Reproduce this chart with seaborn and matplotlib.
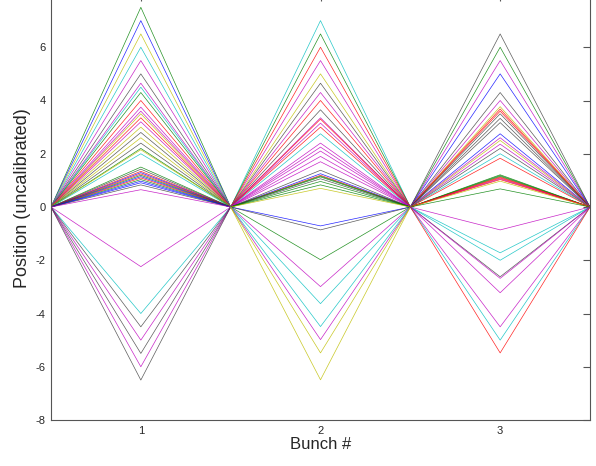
import matplotlib
matplotlib.use("Agg")
import matplotlib.pyplot as plt
import numpy as np
import pandas as pd
import seaborn as sns

# Peak position of each trace in each bunch, with its line colour code
bunches = [1, 2, 3]

peaks_bunch1 = [7.5, 7.0, 6.5, 6.0, 5.5, 5.0, 4.65, 4.5, 4.3, 4.0, 3.75, 3.6, 3.5,
                3.35, 3.2, 3.0, 2.8, 2.6, 2.4, 2.2, 2.15, 2.0,
                1.5, 1.42, 1.34, 1.29, 1.24, 1.19, 1.14, 1.09, 1.03, 0.97, 0.91,
                0.83, 0.65,
                -2.24, -4.0, -4.5, -5.0, -5.5, -6.0, -6.5]
colors_bunch1 = "gbycmkmcgrmmyrmykykgyc" "gkrbrgbrgbbkm" "mckmkmk"

peaks_bunch2 = [7.0, 6.5, 6.0, 5.5, 5.0, 4.65, 4.3, 4.0, 3.65, 3.35, 3.3, 3.15,
                3.0, 2.75, 2.4, 2.25, 2.1, 1.9, 1.7,
                1.38, 1.25, 1.19, 1.16, 1.13, 1.06, 0.96, 0.83, 0.7,
                -0.71, -0.86, -1.98, -2.99, -3.63, -4.49, -4.98, -5.48, -6.49]
colors_bunch2 = "cgrmykmrkmrmrcmmmmm" "kbrggkggy" "bkgmccmyy"

peaks_bunch3 = [6.5, 6.0, 5.5, 5.0, 4.3, 4.0, 3.77, 3.68, 3.6, 3.5, 3.33, 3.17,
                2.75, 2.6, 2.5, 2.36, 2.2, 2.0, 1.83,
                1.21, 1.18, 1.15, 1.12, 1.09, 1.06, 1.03, 0.97, 0.68,
                -0.86, -1.72, -2.0, -2.62, -2.68, -3.22, -4.5, -5.0, -5.48]
colors_bunch3 = "kgmbkmyrrkkkbmymkcr" "gggrrmryg" "mcckmmmcr"

y_ticks = [-8, -6, -4, -2, 0, 2, 4, 6, 8]

# Classic colour order of the trace palette
color_codes = {
    "b": (0.0, 0.0, 1.0),
    "g": (0.0, 0.5, 0.0),
    "r": (1.0, 0.0, 0.0),
    "c": (0.0, 0.75, 0.75),
    "m": (0.75, 0.0, 0.75),
    "y": (0.75, 0.75, 0.0),
    "k": (0.25, 0.25, 0.25),
}

# Each trace rises from zero half-way before its bunch to the peak and back
rows = []
palette = {}
for b, peaks, codes in zip(bunches,
                           [peaks_bunch1, peaks_bunch2, peaks_bunch3],
                           [colors_bunch1, colors_bunch2, colors_bunch3]):
    for i, (p, c) in enumerate(zip(peaks, codes)):
        key = f"{b}-{i}"
        palette[key] = color_codes[c]
        for x, y in [(b - 0.5, 0.0), (b, p), (b + 0.5, 0.0)]:
            rows.append({"bunch": x, "pos": y, "trace": key})
df = pd.DataFrame(rows)

sns.set_style("white")
plt.rcParams["font.family"] = ["Liberation Sans", "DejaVu Sans"]

fig = plt.figure(figsize=(5.96, 4.66), dpi=100)
ax = fig.add_axes([51 / 596, 46 / 466, 539 / 596, 426 / 466])

sns.lineplot(data=df, x="bunch", y="pos", hue="trace", palette=palette,
             estimator=None, sort=False, legend=False, linewidth=0.5,
             alpha=0.85, ax=ax)

ax.set_xlim(0.5, 3.5)
ax.set_ylim(-8, 8)
ax.set_xticks(bunches)
ax.set_xticklabels([str(b) for b in bunches])
ax.set_yticks(y_ticks)
ax.set_yticklabels([str(t) for t in y_ticks])
ax.tick_params(direction="in", top=True, right=True, length=5, width=0.8,
               color="#555555", labelsize=8, pad=4)
for s in ax.spines.values():
    s.set_color("#555555")
    s.set_linewidth(0.8)
ax.set_xlabel("Bunch #", fontsize=12, labelpad=1)
ax.set_ylabel("Position (uncalibrated)", fontsize=13)
ax.yaxis.set_label_coords(-0.037, 0.521)

fig.savefig("out.png", dpi=100)
